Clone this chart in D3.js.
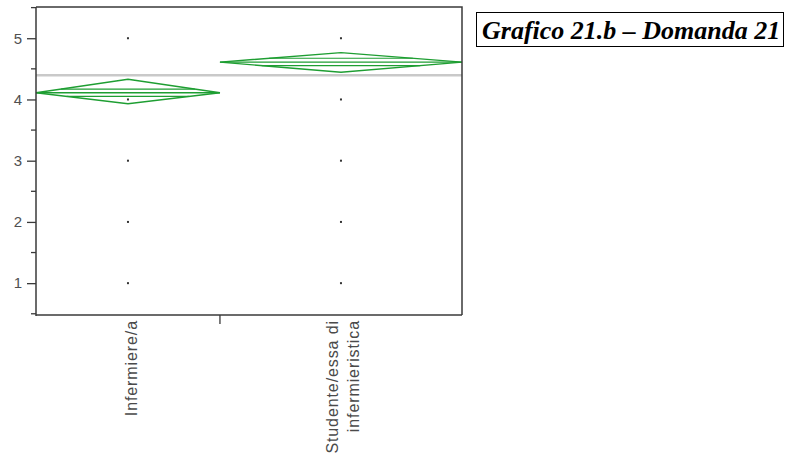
<!DOCTYPE html>
<html>
<head>
<meta charset="utf-8">
<script src="https://cdn.jsdelivr.net/npm/d3@7"></script>
<style>
  html, body { margin: 0; padding: 0; background: #fff; }
  svg { display: block; }
</style>
</head>
<body>
<svg id="chart" width="787" height="454"></svg>
<script>
// Group labels (each may span several lines)
const categories = [["Infermiere/a"], ["Studente/essa di", "infermieristica"]];
// Group sizes (set the width of each group's column)
const groupSizes = [38, 50];
// Means diamonds: mean, 95% CI bounds and overlap marks
const means = [4.11, 4.61];
const ciLower = [3.93, 4.445];
const ciUpper = [4.33, 4.765];
const overlapLower = [4.05, 4.553];
const overlapUpper = [4.17, 4.673];
// Distinct response values observed in each group
const responseValues = [1, 2, 3, 4, 5];
// Grand mean across all responses
const grandMean = 4.396;
// Axis ticks
const majorTicks = [1, 2, 3, 4, 5];
const minorTicks = [0.5, 1.5, 2.5, 3.5, 4.5, 5.5];
const titleText = "Grafico 21.b \u2013 Domanda 21";

const svg = d3.select("#chart");
const plot = { left: 36, right: 462, top: 7, bottom: 315 };

const y = d3.scaleLinear().domain([0.48, 5.51]).range([plot.bottom, plot.top]);

const total = d3.sum(groupSizes);
const x = d3.scaleLinear().domain([0, total]).range([plot.left, plot.right]);
const starts = groupSizes.map((n, i) => d3.sum(groupSizes.slice(0, i)));
const groups = groupSizes.map((n, i) => ({
  i,
  x0: x(starts[i]),
  x1: x(starts[i] + n),
  cx: x(starts[i] + n / 2)
}));

const green = "#1e9e32";
const axisColor = "#3a3a3a";
const sans = "'Liberation Sans', Arial, Helvetica, sans-serif";

// Grand mean reference line
svg.append("line")
  .attr("x1", plot.left).attr("x2", plot.right)
  .attr("y1", y(grandMean)).attr("y2", y(grandMean))
  .attr("stroke", "#c9c9c9").attr("stroke-width", 2.5);

// Response points
groups.forEach(g => {
  svg.selectAll(null).data(responseValues).enter().append("rect")
    .attr("x", g.cx - 1).attr("y", d => y(d) - 1)
    .attr("width", 2).attr("height", 2)
    .attr("fill", "#333");
});

// Means diamonds
groups.forEach(g => {
  const i = g.i, m = y(means[i]);
  const pts = [[g.x0, m], [g.cx, y(ciUpper[i])], [g.x1, m], [g.cx, y(ciLower[i])]];
  svg.append("path")
    .attr("d", d3.line()(pts) + "Z")
    .attr("fill", "none").attr("stroke", green).attr("stroke-width", 1.4);
  svg.append("line")
    .attr("x1", g.x0).attr("x2", g.x1).attr("y1", m).attr("y2", m)
    .attr("stroke", green).attr("stroke-width", 1.3);
  // Overlap marks span the diamond's width at their height
  const half = (g.x1 - g.x0) / 2;
  [[overlapUpper[i], ciUpper[i]], [overlapLower[i], ciLower[i]]].forEach(([v, edge]) => {
    const f = 1 - (v - means[i]) / (edge - means[i]);
    svg.append("line")
      .attr("x1", g.cx - half * f).attr("x2", g.cx + half * f)
      .attr("y1", y(v)).attr("y2", y(v))
      .attr("stroke", green).attr("stroke-width", 1.2);
  });
});

// Frame (top and right)
svg.append("path")
  .attr("d", `M${plot.left},${plot.top}H${plot.right}V${plot.bottom}`)
  .attr("fill", "none").attr("stroke", axisColor).attr("stroke-width", 1.5);

// Y axis
const yAxis = svg.append("g").attr("transform", `translate(${plot.left},0)`)
  .call(d3.axisLeft(y).tickValues(majorTicks).tickSize(9).tickPadding(5).tickFormat(d3.format("d")));
yAxis.select(".domain").remove();
yAxis.selectAll(".tick line").attr("stroke", axisColor).attr("stroke-width", 1.3);
yAxis.selectAll(".tick text").attr("fill", "#505050")
  .style("font-family", sans).style("font-size", "15px");
svg.append("g").attr("transform", `translate(${plot.left},0)`)
  .selectAll("line").data(minorTicks).enter().append("line")
  .attr("x1", -5).attr("x2", 0).attr("y1", d => y(d)).attr("y2", d => y(d))
  .attr("stroke", axisColor).attr("stroke-width", 1.3);
svg.append("line")
  .attr("x1", plot.left).attr("x2", plot.left).attr("y1", plot.top).attr("y2", plot.bottom + 1)
  .attr("stroke", axisColor).attr("stroke-width", 1.5);

// X axis: baseline and group separators
svg.append("line")
  .attr("x1", plot.left).attr("x2", plot.right).attr("y1", plot.bottom).attr("y2", plot.bottom)
  .attr("stroke", axisColor).attr("stroke-width", 1.5);
svg.selectAll(null).data(groups.slice(1)).enter().append("line")
  .attr("x1", d => d.x0).attr("x2", d => d.x0)
  .attr("y1", plot.bottom).attr("y2", plot.bottom + 9)
  .attr("stroke", axisColor).attr("stroke-width", 1.3);

// Category labels, rotated
groups.forEach(g => {
  const lines = categories[g.i];
  const lineGap = 21;
  lines.forEach((txt, k) => {
    const bx = g.cx + 9 + (k - (lines.length - 1) / 2) * lineGap - (lines.length > 1 ? 1 : 0);
    svg.append("text")
      .attr("transform", `translate(${bx},${plot.bottom + 5}) rotate(-90)`)
      .attr("text-anchor", "end")
      .attr("fill", "#4a4a4a")
      .style("font-family", sans)
      .style("font-size", "16px")
      .style("letter-spacing", "0.9px")
      .text(txt);
  });
});

// Title box
const title = svg.append("g");
title.append("rect")
  .attr("x", 476.5).attr("y", 12.5).attr("width", 307).attr("height", 34)
  .attr("fill", "#fff").attr("stroke", "#000").attr("stroke-width", 1);
title.append("text")
  .attr("x", 482).attr("y", 38.5)
  .attr("fill", "#000")
  .style("font-family", "'Liberation Serif', 'Times New Roman', serif")
  .style("font-weight", "bold").style("font-style", "italic")
  .style("font-size", "26px")
  .text(titleText);
</script>
</body>
</html>
